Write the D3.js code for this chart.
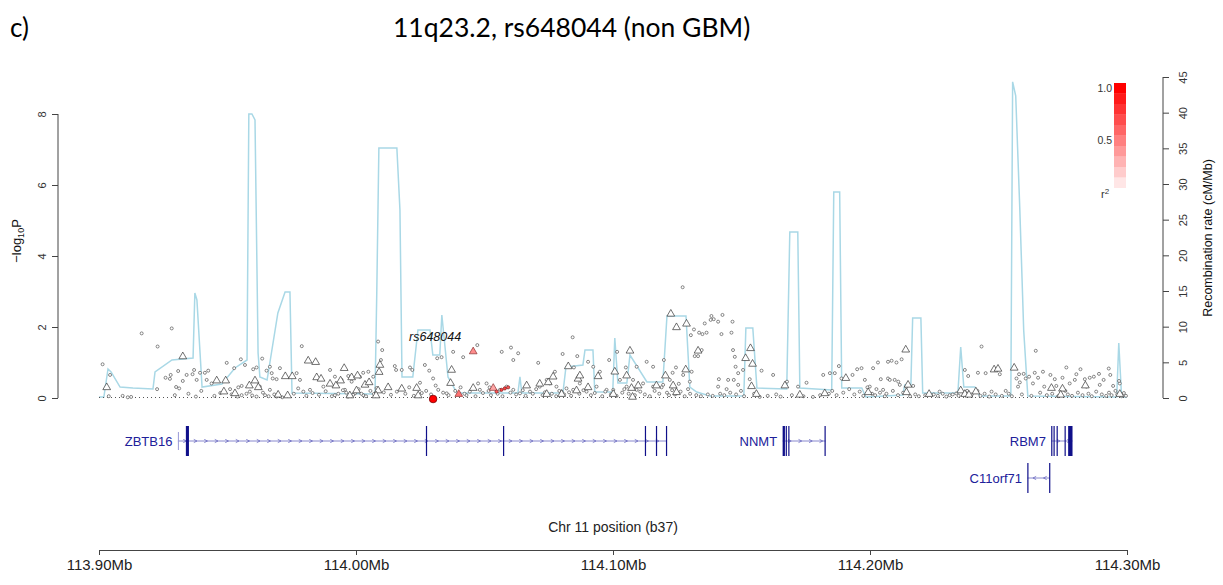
<!DOCTYPE html>
<html><head><meta charset="utf-8">
<script src="https://cdn.jsdelivr.net/npm/d3@7"></script>
<style>
body{margin:0;background:#fff}
svg{display:block}
text{font-family:"Liberation Sans",Arial,sans-serif}
</style>
</head><body>
<svg id="c" width="1223" height="585"></svg>
<script>
// ---------------- DATA ----------------
const panelLabel = "c)";
const titleText = "11q23.2, rs648044 (non GBM)";
const xLabel = "Chr 11 position (b37)";
const rightLabel = "Recombination rate (cM/Mb)";
const xTicks = [113900, 114000, 114100, 114200, 114300]; // kb
const yTicks = [0, 2, 4, 6, 8];
const yRTicks = [0, 5, 10, 15, 20, 25, 30, 35, 40, 45];
const legendR2 = [1.0, 0.9, 0.8, 0.7, 0.6, 0.5, 0.4, 0.3, 0.2, 0.1, 0.0];

// recombination rate (position kb, cM/Mb)
const recombPos = [113900.0,113901.9,113903.5,113904.7,113908.2,113913.2,113921.0,113921.8,113928.4,113936.6,113937.3,113938.1,113940.1,113947.8,113952.9,113957.6,113958.3,113959.5,113960.7,113961.9,113962.6,113965.4,113969.6,113972.4,113974.3,113975.1,114007.4,114008.1,114008.9,114015.9,114017.1,114017.9,114022.1,114024.1,114028.8,114029.9,114032.6,114033.4,114035.8,114039.3,114063.0,114063.8,114064.5,114080.5,114081.7,114088.3,114089.1,114092.2,114092.9,114099.9,114100.7,114101.9,114105.4,114106.6,114113.2,114119.4,114121.0,114128.4,114129.9,114132.6,114137.7,114150.9,114151.7,114154.4,114156.0,114167.6,114168.8,114171.9,114172.7,114185.1,114185.9,114188.2,114189.0,114196.8,114198.4,114212.8,114213.5,114215.9,114216.6,114219.8,114220.5,114234.2,114235.3,114236.5,114240.8,114242.7,114254.8,114255.5,114256.7,114258.3,114259.8,114261.4,114296.0,114296.8,114297.9,114299.9];
const recombRate = [0.14,0.14,4.07,3.65,1.54,1.40,1.26,3.65,5.33,5.61,14.73,13.74,1.54,1.96,4.21,5.33,39.83,39.83,38.99,6.31,2.95,2.52,11.92,14.87,14.87,0.70,0.56,15.15,35.06,35.06,26.37,2.95,2.95,9.54,9.54,6.03,6.03,11.64,2.95,0.70,0.70,2.95,0.70,0.70,4.35,4.63,6.73,6.73,0.84,0.84,8.42,2.10,2.10,6.03,2.24,2.24,11.50,11.50,1.54,0.84,0.28,0.28,9.82,9.82,1.40,1.26,23.28,23.28,1.40,1.12,28.89,28.89,1.40,1.40,0.14,0.42,1.82,1.82,11.22,11.22,0.70,0.70,7.15,1.54,1.54,0.28,0.28,44.32,42.36,26.37,9.54,0.28,0.14,7.71,0.14,0.14];

// SNPs drawn as circles (r2 ~ 0): position kb, -log10 P
const circlePos = [113901.4,113904.3,113909.2,113911.2,113916.6,113922.8,113928.3,113922.6,113925.9,113927.6,113927.9,113930.8,113932.6,113930.0,113931.2,113934.1,113936.4,113937.0,113938.0,113939.3,113941.2,113941.9,113942.5,113943.8,113937.7,113949.7,113952.6,113955.2,113956.8,113951.0,113954.2,113955.5,113960.0,113961.3,113963.5,113965.2,113966.5,113967.2,113967.6,113970.4,113969.1,113966.5,113962.6,113964.6,113961.3,113969.1,113978.9,113976.9,113978.2,113977.5,113979.5,113982.1,113987.3,113989.9,113991.8,113994.4,113997.0,113998.3,114001.5,114002.8,114004.8,114006.7,114008.6,114010.2,114009.7,113995.7,113999.6,114002.8,113991.8,113996.9,113955.5,113958.7,
114015.1,114015.6,114017.8,114021.0,114021.9,114024.9,114026.8,114028.5,114030.0,114031.6,114033.3,114032.0,114037.8,114041.7,114047.2,114047.5,114050.8,114056.7,114060.3,114061.2,114063.1,114070.9,114077.4,114084.3,114080.4,114086.1,114084.8,114090.3,114092.3,114094.9,114098.5,114101.6,114102.7,114105.0,114109.2,114113.1,114115.6,114119.8,114124.5,114097.5,114107.8,114111.7,
114035.3,114043.0,114048.2,114052.0,114056.0,114058.6,114061.2,114063.8,114067.7,114071.5,114074.2,114075.4,114078.0,114080.0,114081.9,114084.5,114087.1,114089.7,114093.6,114100.1,114105.3,114109.2,114115.6,114119.5,114122.1,114124.7,
114127.1,114138.3,114139.2,114138.0,114142.6,114140.9,114135.7,114146.5,114131.5,114133.5,114134.8,114136.4,114130.3,114142.2,114146.1,114146.7,114131.8,114134.5,114133.1,114147.4,114147.7,114148.7,114150.6,114123.2,114130.6,114127.3,114129.9,114141.2,114144.8,114147.0,114140.9,114144.2,114148.7,114153.2,114157.8,114162.3,114167.7,114172.0,114175.3,114181.8,114184.4,114186.3,114187.9,114188.9,114193.2,114195.0,114196.7,114198.0,114201.2,114203.1,114207.0,114208.4,114210.3,114212.3,114204.2,114207.0,114207.7,114209.6,114211.6,114199.9,114202.5,114205.1,114214.2,114216.8,
114243.4,114264.5,114236.9,114238.2,114242.0,114245.0,114250.5,114258.0,114257.0,114259.8,114260.6,114261.9,114264.1,114265.4,114267.3,114270.2,114271.9,114274.9,114276.4,114280.3,114281.9,114283.6,114285.5,114287.1,114289.1,114290.9,114292.9,114293.5,114279.7,114263.4,114267.8,114272.5,114277.7,114284.2,114289.4,114294.6,114297.2,114257.6,114258.3,114252.8,114247.3,114241.8,114227.1,114231.0,114233.6,114296.9,114211.0,
113903.8,113912.5,113929.5,113934.8,113939.8,113944.9,113947.2,113951.6,113953.9,113957.4,113959.6,113963.8,113966.0,113968.2,113971.3,113975.8,113980.7,113983.1,113985.6,113988.2,113990.6,113993.1,113994.9,113996.2,113998.9,114001.0,114002.1,114003.9,114005.6,114006.9,114008.0,114010.8,114013.6,114015.9,114019.2,114020.7,114022.5,114025.6,114027.3,114029.2,114031.0,114033.9,114036.0,114038.6,114040.7,114042.2,114044.3,114046.5,114049.4,114051.6,114052.5,114055.1,114057.0,114060.1,114062.3,114064.9,114066.0,114068.8,114070.1,114072.6,114073.5,114076.2,114077.9,114079.1,114081.0,114082.9,114083.7,114086.9,114088.5,114091.4,114092.9,114095.8,114097.0,114099.2,114101.4,114103.6,114104.4,114106.1,114108.5,114110.6,114112.4,114114.3,114116.2,114118.0,114118.9,114121.0,114121.8,114123.0,114124.1,114125.6,114126.3,114127.9,114129.2,114130.0,114132.4,114134.2,114136.9,114138.8,114141.7,114143.3,114145.6,114147.9,114149.8,114151.0,114154.9,114157.1,114160.2,114163.5,114165.2,114169.6,114174.1,114177.8,114180.6,114184.0,114185.3,114187.0,114189.6,114191.9,114193.9,114196.0,114197.4,114199.0,114200.8,114202.0,114203.9,114205.8,114206.4,114208.9,114210.9,114212.9,114215.6,114217.6,114219.0,114221.5,114224.8,114226.4,114228.3,114229.7,114232.2,114234.5,114237.8,114239.6,114243.0,114244.6,114246.4,114248.9,114251.3,114254.0,114255.2,114259.1,114262.8,114266.2,114268.8,114270.9,114273.2,114276.0,114277.0,114278.6,114280.9,114282.7,114285.0,114286.3,114288.0,114290.2,114291.9,114293.0,114294.0,114295.5,114296.2,114297.9,114298.8,114299.6];
const circleLogP = [0.95,0.65,0.06,0.02,1.82,1.45,1.96,0.25,0.57,0.54,0.65,0.76,0.48,0.31,0.27,0.65,0.67,0.79,0.51,0.71,0.71,0.51,0.77,0.41,0.04,0.99,0.84,1.09,0.93,0.25,0.30,0.34,0.81,0.86,1.11,0.77,0.88,0.70,0.55,0.84,0.53,0.23,0.32,0.08,0.04,0.04,1.46,0.70,0.51,0.27,0.18,0.23,0.32,0.79,0.60,0.51,0.62,0.46,0.60,0.71,0.74,0.60,1.59,1.35,1.07,0.23,0.13,0.08,0.08,0.04,0.08,0.18,
0.90,0.79,0.79,0.86,0.79,0.43,0.93,0.77,0.55,1.12,1.15,0.23,1.30,1.15,1.49,0.41,0.41,1.30,1.42,1.07,1.26,0.99,0.74,1.71,1.24,1.18,0.86,1.02,0.88,0.74,1.07,1.30,0.51,0.86,0.88,1.02,0.88,1.07,0.86,0.23,0.51,0.41,
0.13,0.08,0.23,0.30,0.23,0.32,0.23,0.13,0.18,0.32,0.51,0.41,0.32,0.18,0.27,0.23,0.41,0.18,0.32,0.23,0.32,0.23,0.32,0.37,0.51,0.13,
3.12,2.31,2.22,2.20,2.34,2.15,2.10,2.15,1.93,1.84,1.80,1.84,1.77,1.80,1.84,1.35,1.18,1.35,1.18,1.16,0.88,0.70,0.79,0.71,0.74,0.65,0.46,0.53,0.51,0.51,0.32,0.25,0.37,0.53,0.77,0.65,0.46,0.32,0.43,0.65,0.70,0.70,0.90,0.55,0.65,0.81,0.84,0.51,0.84,1.00,1.02,1.05,1.00,1.09,0.53,0.55,0.51,0.51,0.37,0.32,0.25,0.23,0.32,0.34,
1.45,1.33,0.79,0.62,0.71,0.70,0.67,0.67,0.55,0.68,0.55,0.60,0.71,0.57,0.74,0.65,0.53,0.57,0.86,0.67,0.81,0.53,0.57,0.60,0.68,0.51,0.83,0.65,0.51,0.41,0.32,0.34,0.41,0.32,0.37,0.34,0.41,0.32,0.44,0.20,0.18,0.20,0.18,0.08,0.13,0.48,0.46,
0.05,0.03,0.08,0.12,0.20,0.06,0.14,0.10,0.04,0.12,0.07,0.15,0.05,0.10,0.02,0.12,0.06,0.14,0.09,0.19,0.05,0.12,0.22,0.15,0.09,0.25,0.12,0.05,0.20,0.11,0.28,0.16,0.09,0.18,0.12,0.30,0.06,0.14,0.20,0.10,0.35,0.15,0.08,0.20,0.30,0.12,0.18,0.05,0.14,0.20,0.08,0.12,0.05,0.15,0.10,0.22,0.06,0.12,0.25,0.08,0.16,0.12,0.05,0.20,0.10,0.16,0.06,0.12,0.22,0.08,0.14,0.05,0.18,0.10,0.06,0.15,0.25,0.12,0.08,0.18,0.10,0.05,0.20,0.12,0.30,0.15,0.08,0.22,0.10,0.40,0.18,0.05,0.25,0.12,0.08,0.05,0.10,0.06,0.12,0.08,0.15,0.10,0.20,0.05,0.12,0.03,0.06,0.10,0.04,0.08,0.05,0.03,0.08,0.12,0.20,0.08,0.15,0.25,0.10,0.18,0.06,0.30,0.12,0.08,0.15,0.05,0.12,0.20,0.08,0.15,0.05,0.10,0.05,0.08,0.10,0.06,0.12,0.04,0.10,0.06,0.20,0.10,0.06,0.12,0.04,0.10,0.06,0.12,0.05,0.10,0.06,0.15,0.08,0.12,0.05,0.20,0.10,0.06,0.15,0.08,0.12,0.05,0.18,0.10,0.06,0.15,0.08,0.20,0.10,0.05,0.14,0.06];

// SNPs drawn as triangles (r2 ~ 0)
const triPos = [113903.0,113932.6,113945.8,113949.3,113948.6,113952.9,113958.5,113960.7,113962.0,113969.7,113972.5,113975.2,113973.4,113981.4,113984.3,113984.7,113986.4,113989.9,113992.2,113994.0,113995.4,113998.3,114000.6,114003.5,114005.1,114008.6,114009.0,114009.3,114007.8,114000.2,113997.6,114012.5,114017.8,114023.6,114024.2,114037.2,114036.8,114045.6,114066.4,114071.5,114074.8,114076.7,114082.6,114086.4,114087.1,114090.3,114094.2,114100.7,114105.3,114106.6,114107.2,114109.8,114116.9,114120.4,114122.5,114124.7,114123.4,114074.2,114080.0,114085.8,114100.1,114107.6,114128.6,114133.1,114128.3,114124.7,114153.5,114151.6,114154.3,114153.9,114155.8,114166.9,114172.7,114182.4,114190.6,114199.3,114213.9,114214.8,114214.2,114223.0,114235.3,114241.2,114248.3,114249.8,114256.1,114270.6,114274.9,114274.2,114283.8,114236.9,114238.5,114297.2];
const triLogP = [0.27,1.14,0.46,0.46,0.15,0.10,0.32,0.46,0.27,0.06,0.58,0.58,0.04,1.02,0.98,0.55,0.51,0.37,0.32,0.46,0.81,0.55,0.60,0.34,0.41,0.18,0.70,0.90,0.04,0.18,0.04,0.27,0.23,0.25,0.04,0.76,0.39,0.25,0.32,0.37,0.41,0.57,0.86,0.51,0.60,0.27,0.58,0.71,0.60,1.30,0.25,0.32,0.32,0.60,2.34,1.96,0.32,0.08,0.08,0.18,0.08,0.00,2.06,1.30,0.77,0.13,1.37,1.09,0.93,0.30,0.08,0.32,0.06,0.10,0.53,0.13,1.33,0.34,0.13,0.08,0.18,0.15,0.77,0.79,0.82,0.25,0.23,0.06,0.32,0.08,0.06,0.08];

// SNPs in LD with the index SNP
const ldPos = [114045.6, 114040.0, 114053.4, 114056.6, 114057.9, 114059.2, 114054.7];
const ldLogP = [1.28, 0.08, 0.25, 0.23, 0.27, 0.30, 0.18];
const ldR2 = [0.45, 0.55, 0.35, 0.75, 0.75, 0.65, 0.65];
const ldShape = ["tri", "tri", "tri", "circ", "circ", "circ", "circ"];

// index SNP
const leadName = "rs648044";
const leadPos = 114030.0;
const leadLogP = 0.0;

// genes (kb)
const geneNames = ["ZBTB16", "NNMT", "RBM7", "C11orf71"];
const geneStart = [113930.7, 114166.0, 114270.6, 114261.3];
const geneEnd = [114121.0, 114182.7, 114278.8, 114270.0];
const geneStrand = ["+", "+", "+", "-"];
const geneRow = [0, 0, 0, 1];
const geneExons = [
  [[113933.8, 113935.0], [114027.2, 114027.4], [114057.2, 114057.4], [114112.4, 114112.6], [114116.7, 114116.9], [114120.6, 114121.0]],
  [[114166.0, 114166.9], [114167.2, 114167.4], [114168.2, 114168.4], [114182.3, 114182.7]],
  [[114270.5, 114270.8], [114271.4, 114271.7], [114272.6, 114272.9], [114275.7, 114276.0], [114277.1, 114278.8]],
  [[114261.2, 114261.5], [114269.7, 114270.0]]
];
const geneUTR = [[[113930.7, 113930.9]], [], [], []];

// ---------------- DRAW ----------------
const svg = d3.select("#c");
svg.append("rect").attr("width", 1223).attr("height", 585).attr("fill", "#fff");

const x = d3.scaleLinear().domain([113900, 114300]).range([99, 1127]);
const y = d3.scaleLinear().domain([0, 8]).range([398, 114]);
const yR = d3.scaleLinear().domain([0, 45]).range([398, 77]);
const r2col = d3.interpolateRgb("#ffffff", "#ff0000");

// titles
svg.append("text").attr("x", 10).attr("y", 37).text(panelLabel)
  .style("font-family", "Lato, 'Open Sans', sans-serif").style("font-size", "26px").attr("fill", "#000");
svg.append("text").attr("x", 393).attr("y", 37).text(titleText)
  .style("font-family", "Lato, 'Open Sans', sans-serif").style("font-size", "26.5px").attr("fill", "#000");

// recombination line
svg.append("path")
  .datum(recombPos.map((p, i) => [p, recombRate[i]]))
  .attr("fill", "none").attr("stroke", "#a9d8e6").attr("stroke-width", 1.5)
  .attr("d", d3.line().x(d => x(d[0])).y(d => yR(d[1])));

// dotted baseline
svg.append("line").attr("x1", x(113900)).attr("x2", x(114300))
  .attr("y1", y(0) - 0.5).attr("y2", y(0) - 0.5)
  .attr("stroke", "#555").attr("stroke-width", 1).attr("stroke-dasharray", "1,3");

// circles
svg.append("g").selectAll("circle").data(circlePos.map((p, i) => [p, circleLogP[i]])).join("circle")
  .attr("cx", d => x(d[0])).attr("cy", d => y(d[1])).attr("r", 1.5)
  .attr("fill", "#fff").attr("stroke", "#555").attr("stroke-width", 0.7);

// triangles
const triSym = d3.symbol().type(d3.symbolTriangle).size(26);
svg.append("g").selectAll("path").data(triPos.map((p, i) => [p, triLogP[i]])).join("path")
  .attr("transform", d => `translate(${x(d[0])},${y(d[1]) - 1})`)
  .attr("d", triSym).attr("fill", "#fff").attr("stroke", "#333").attr("stroke-width", 0.7);

// LD coloured
const ldG = svg.append("g");
ldPos.forEach((p, i) => {
  if (ldShape[i] === "tri") {
    ldG.append("path").attr("transform", `translate(${x(p)},${y(ldLogP[i]) - 1})`)
      .attr("d", triSym).attr("fill", r2col(ldR2[i])).attr("stroke", "#8a3030").attr("stroke-width", 0.7);
  } else {
    ldG.append("circle").attr("cx", x(p)).attr("cy", y(ldLogP[i])).attr("r", 1.6)
      .attr("fill", r2col(ldR2[i])).attr("stroke", "#7a2020").attr("stroke-width", 0.7);
  }
});

// index SNP
svg.append("circle").attr("cx", x(leadPos)).attr("cy", y(leadLogP) + 1).attr("r", 3.8)
  .attr("fill", "#ff0000").attr("stroke", "#700").attr("stroke-width", 0.8);
svg.append("text").attr("x", x(leadPos) + 2).attr("y", y(leadLogP) - 57)
  .attr("text-anchor", "middle").style("font-style", "italic").style("font-size", "12.5px")
  .attr("fill", "#111").text(leadName);

// left axis
const gL = svg.append("g").attr("transform", "translate(58,0)")
  .call(d3.axisLeft(y).tickValues(yTicks).tickSize(6).tickSizeOuter(0));
gL.select(".domain").remove();
gL.append("line").attr("y1", y(yTicks[yTicks.length - 1])).attr("y2", y(0)).attr("stroke", "#444");
gL.selectAll(".tick line").attr("stroke", "#444");
gL.selectAll(".tick text").attr("x", null).attr("dy", null)
  .attr("transform", "translate(-12,0) rotate(-90)").attr("text-anchor", "middle")
  .style("font-size", "11px").style("font-family", "'Liberation Sans',Arial,sans-serif").attr("fill", "#333");
const yl = svg.append("text").attr("transform", "translate(21,241) rotate(-90)")
  .attr("text-anchor", "middle").style("font-size", "13px").attr("fill", "#111");
yl.append("tspan").text("\u2212log");
yl.append("tspan").attr("dy", 3).style("font-size", "9px").text("10");
yl.append("tspan").attr("dy", -3).text("P");

// right axis
const gR = svg.append("g").attr("transform", "translate(1163,0)")
  .call(d3.axisRight(yR).tickValues(yRTicks).tickSize(6).tickSizeOuter(0));
gR.select(".domain").remove();
gR.append("line").attr("y1", yR(45)).attr("y2", yR(0)).attr("stroke", "#444");
gR.selectAll(".tick line").attr("stroke", "#444");
gR.selectAll(".tick text").attr("x", null).attr("dy", null)
  .attr("transform", "translate(24,0) rotate(-90)").attr("text-anchor", "middle")
  .style("font-size", "11px").style("font-family", "'Liberation Sans',Arial,sans-serif").attr("fill", "#333");
svg.append("text").attr("transform", "translate(1212,238) rotate(-90)")
  .attr("text-anchor", "middle").style("font-size", "12.5px").attr("fill", "#111").text(rightLabel);

// legend bar
const bandH = 10.5, legX = 1114, legY = 83;
svg.append("g").selectAll("rect").data(legendR2).join("rect")
  .attr("x", legX).attr("y", (d, i) => legY + i * bandH).attr("width", 12).attr("height", bandH + 0.3)
  .attr("fill", d => r2col(d));
svg.append("text").attr("x", 1112).attr("y", legY + bandH / 2).attr("dy", "0.35em")
  .attr("text-anchor", "end").style("font-size", "10.5px").attr("fill", "#333").text("1.0");
svg.append("text").attr("x", 1112).attr("y", legY + 5.5 * bandH).attr("dy", "0.35em")
  .attr("text-anchor", "end").style("font-size", "10.5px").attr("fill", "#333").text("0.5");
const r2t = svg.append("text").attr("x", 1101).attr("y", 198).style("font-size", "11px").attr("fill", "#333");
r2t.append("tspan").text("r");
r2t.append("tspan").attr("dy", -4).style("font-size", "8px").text("2");

// genes
const rowY = [441, 478];
const exH = 15;
const gG = svg.append("g");
geneNames.forEach((name, gi) => {
  const yc = rowY[geneRow[gi]];
  const x0 = x(geneStart[gi]), x1 = x(geneEnd[gi]);
  gG.append("line").attr("x1", x0).attr("x2", x1).attr("y1", yc).attr("y2", yc)
    .attr("stroke", "#7c7cc8").attr("stroke-width", 0.9);
  for (let px = x0 + 7; px < x1 - 3; px += 10.5) {
    const dx = geneStrand[gi] === "+" ? 1.6 : -1.6;
    gG.append("path").attr("d", `M${px - dx},${yc - 1.6}L${px + dx},${yc}L${px - dx},${yc + 1.6}`)
      .attr("fill", "none").attr("stroke", "#6a6ac0").attr("stroke-width", 0.8);
  }
  geneUTR[gi].forEach(e => {
    gG.append("rect").attr("x", x(e[0])).attr("y", yc - 9).attr("width", Math.max(1, x(e[1]) - x(e[0])))
      .attr("height", 18).attr("fill", "#9a9ad8");
  });
  geneExons[gi].forEach(e => {
    gG.append("rect").attr("x", x(e[0])).attr("y", yc - exH)
      .attr("width", Math.max(1.2, x(e[1]) - x(e[0]))).attr("height", 2 * exH).attr("fill", "#10108a");
  });
  gG.append("text").attr("x", x0 - 5.5).attr("y", yc).attr("dy", "0.35em").attr("text-anchor", "end")
    .style("font-size", "13px").attr("fill", "#20209a").text(name);
});

// bottom axis
const gB = svg.append("g").attr("transform", "translate(0,550)")
  .call(d3.axisBottom(x).tickValues(xTicks).tickSize(5).tickSizeOuter(0)
    .tickFormat(d => (d / 1000).toFixed(2) + "Mb"));
gB.select(".domain").attr("stroke", "#444");
gB.selectAll(".tick line").attr("stroke", "#444");
gB.selectAll(".tick text").attr("y", 9).style("font-size", "15px")
  .style("font-family", "'Liberation Sans',Arial,sans-serif").attr("fill", "#222");
svg.append("text").attr("x", 613).attr("y", 532).attr("text-anchor", "middle")
  .style("font-size", "14px").attr("fill", "#222").text(xLabel);
</script>
</body></html>
